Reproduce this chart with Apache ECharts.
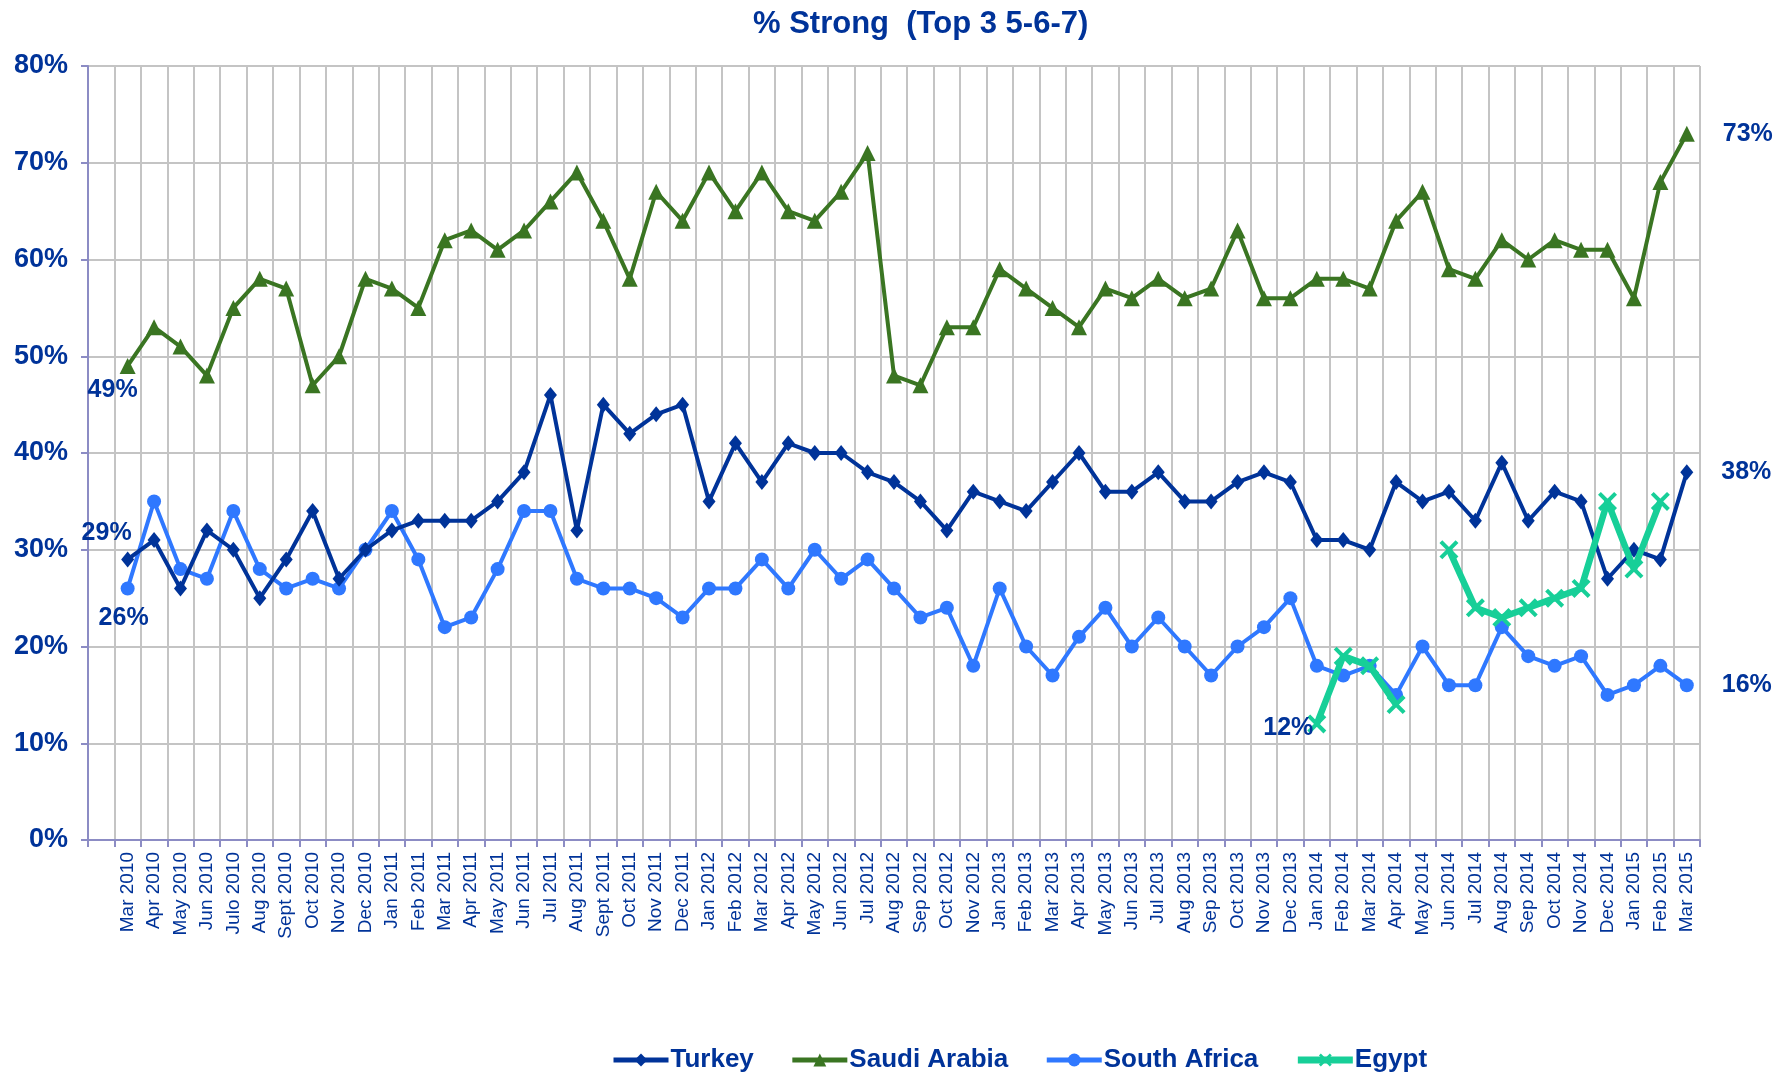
<!DOCTYPE html>
<html>
<head>
<meta charset="utf-8">
<script src="https://cdn.jsdelivr.net/npm/echarts@6/dist/echarts.min.js"></script>
<style>
  html, body { margin: 0; padding: 0; background: #fff; }
  #chart { width: 1789px; height: 1074px; }
</style>
</head>
<body>
<div id="chart"></div>
<script>
  // months shown on the x axis (no Dec 2012 in the source)
  const categories = [
    'Mar 2010', 'Apr 2010', 'May 2010', 'Jun 2010', 'Julo 2010', 'Aug 2010', 'Sept 2010', 'Oct 2010', 'Nov 2010', 'Dec 2010',
    'Jan 2011', 'Feb 2011', 'Mar 2011', 'Apr 2011', 'May 2011', 'Jun 2011', 'Jul 2011', 'Aug 2011', 'Sept 2011', 'Oct 2011', 'Nov 2011', 'Dec 2011',
    'Jan 2012', 'Feb 2012', 'Mar 2012', 'Apr 2012', 'May 2012', 'Jun 2012', 'Jul 2012', 'Aug 2012', 'Sep 2012', 'Oct 2012', 'Nov 2012',
    'Jan 2013', 'Feb 2013', 'Mar 2013', 'Apr 2013', 'May 2013', 'Jun 2013', 'Jul 2013', 'Aug 2013', 'Sep 2013', 'Oct 2013', 'Nov 2013', 'Dec 2013',
    'Jan 2014', 'Feb 2014', 'Mar 2014', 'Apr 2014', 'May 2014', 'Jun 2014', 'Jul 2014', 'Aug 2014', 'Sep 2014', 'Oct 2014', 'Nov 2014', 'Dec 2014',
    'Jan 2015', 'Feb 2015', 'Mar 2015'
  ]

  const turkey = [
    29, 31, 26, 32, 30, 25, 29, 34, 27, 30,
    32, 33, 33, 33, 35, 38, 46, 32, 45, 42, 44, 45,
    35, 41, 37, 41, 40, 40, 38, 37, 35, 32, 36,
    35, 34, 37, 40, 36, 36, 38, 35, 35, 37, 38, 37,
    31, 31, 30, 37, 35, 36, 33, 39, 33, 36, 35, 27,
    30, 29, 38
  ]
  const saudiArabia = [
    49, 53, 51, 48, 55, 58, 57, 47, 50, 58,
    57, 55, 62, 63, 61, 63, 66, 69, 64, 58, 67, 64,
    69, 65, 69, 65, 64, 67, 71, 48, 47, 53, 53,
    59, 57, 55, 53, 57, 56, 58, 56, 57, 63, 56, 56,
    58, 58, 57, 64, 67, 59, 58, 62, 60, 62, 61, 61,
    56, 68, 73
  ]
  const southAfrica = [
    26, 35, 28, 27, 34, 28, 26, 27, 26, 30,
    34, 29, 22, 23, 28, 34, 34, 27, 26, 26, 25, 23,
    26, 26, 29, 26, 30, 27, 29, 26, 23, 24, 18,
    26, 20, 17, 21, 24, 20, 23, 20, 17, 20, 22, 25,
    18, 17, 18, 15, 20, 16, 16, 22, 19, 18, 19, 15,
    16, 18, 16
  ]
  const egypt = [
    null, null, null, null, null, null, null, null, null, null,
    null, null, null, null, null, null, null, null, null, null, null, null,
    null, null, null, null, null, null, null, null, null, null, null,
    null, null, null, null, null, null, null, null, null, null, null, null,
    12, 19, 18, 14, null, 30, 24, 23, 24, 25, 26, 35,
    28, 35, null
  ]
  const yTicks = [0, 10, 20, 30, 40, 50, 60, 70, 80]

  const FONT = "'Liberation Sans', Arial, sans-serif"
  const NAVY = '#003399'

  // first slot of the axis is left empty, like the source chart
  const pad = (arr, blank) => [blank].concat(arr)

  function labelled(values, marks) {
    return pad(values, null).map((v, i) => {
      const m = marks[i - 1]
      if (!m) return v
      return {
        value: v,
        label: Object.assign({
          show: true,
          formatter: '{c}%',
          color: NAVY,
          fontFamily: FONT,
          fontWeight: 'bold',
          fontSize: 25
        }, m)
      }
    })
  }

  const last = categories.length - 1

  const chart = echarts.init(document.getElementById('chart'))
  chart.setOption({
    animation: false,
    backgroundColor: '#fff',
    title: {
      text: '% Strong  (Top 3 5-6-7)',
      left: 748,
      top: 4,
      textStyle: {
        color: NAVY,
        fontFamily: FONT,
        fontWeight: 'bold',
        fontSize: 31
      }
    },
    legend: {
      left: 606,
      top: 1042,
      itemWidth: 55,
      itemHeight: 16,
      itemGap: 36,
      lineStyle: { width: 5 },
      textStyle: {
        color: NAVY,
        fontFamily: FONT,
        fontWeight: 'bold',
        fontSize: 26,
        padding: [0, 0, 0, -3]
      },
      data: [
        { name: 'Turkey' },
        { name: 'Saudi Arabia' },
        { name: 'South Africa' },
        { name: 'Egypt', lineStyle: { width: 7 } }
      ]
    },
    grid: {
      left: 88,
      right: 89,
      top: 66,
      bottom: 234,
      containLabel: false
    },
    xAxis: {
      type: 'category',
      boundaryGap: true,
      data: pad(categories, ''),
      axisLine: { lineStyle: { color: '#8c8cc4', width: 2 } },
      axisTick: { show: true, interval: 0, length: 7, lineStyle: { color: '#8c8cc4', width: 2 } },
      axisLabel: {
        interval: 0,
        rotate: 90,
        margin: 12,
        color: NAVY,
        fontFamily: FONT,
        fontSize: 19
      },
      splitLine: { show: true, interval: 0, lineStyle: { color: '#c4c4c4', width: 2 } }
    },
    yAxis: {
      type: 'value',
      min: yTicks[0],
      max: yTicks[yTicks.length - 1],
      interval: 10,
      axisLine: { show: true, lineStyle: { color: '#8c8cc4', width: 2 } },
      axisTick: { show: true, length: 7, lineStyle: { color: '#8c8cc4', width: 2 } },
      axisLabel: {
        margin: 20,
        formatter: '{value}%',
        color: NAVY,
        fontFamily: FONT,
        fontWeight: 'bold',
        fontSize: 27
      },
      splitLine: { lineStyle: { color: '#c4c4c4', width: 2 } }
    },
    series: [
      {
        name: 'Turkey',
        type: 'line',
        data: labelled(turkey, {
          0: { position: 'top', distance: 4, offset: [-21, -2] },
          [last]: { position: 'right', distance: 28 }
        }),
        symbol: 'diamond',
        symbolSize: [13, 16],
        color: '#003399',
        lineStyle: { width: 4 },
        z: 3
      },
      {
        name: 'Saudi Arabia',
        type: 'line',
        data: labelled(saudiArabia, {
          0: { position: 'bottom', distance: 4, offset: [-15, 0] },
          [last]: { position: 'right', distance: 28 }
        }),
        symbol: 'triangle',
        symbolSize: 16,
        color: '#3a7522',
        lineStyle: { width: 4 },
        z: 2
      },
      {
        name: 'South Africa',
        type: 'line',
        data: labelled(southAfrica, {
          0: { position: 'bottom', distance: 10, offset: [-4, 0] },
          [last]: { position: 'right', distance: 28 }
        }),
        symbol: 'circle',
        symbolSize: 14,
        color: '#2f78ff',
        lineStyle: { width: 4 },
        z: 2
      },
      {
        name: 'Egypt',
        type: 'line',
        connectNulls: false,
        data: labelled(egypt, {
          45: { position: 'left', distance: -6, offset: [0, 4] }
        }),
        symbol: 'path://M0,1.5 L1.5,0 L10,8.5 L8.5,10 Z M8.5,0 L10,1.5 L1.5,10 L0,8.5 Z',
        symbolSize: 19,
        color: '#17cf98',
        lineStyle: { width: 6.5 },
        z: 4
      }
    ]
  })
</script>
</body>
</html>
